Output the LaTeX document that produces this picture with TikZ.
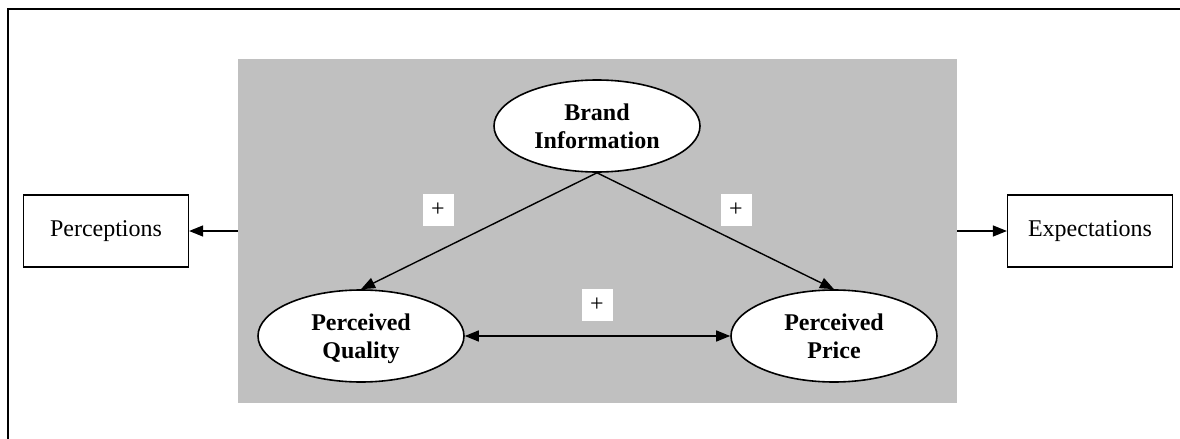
\documentclass[tikz,border=0pt]{standalone}
\usepackage{fontspec}
\setmainfont{Liberation Serif}
\usetikzlibrary{shapes.geometric, arrows.meta}
\definecolor{panelgray}{HTML}{C0C0C0}

\tikzset{
  construct/.style={ellipse, draw, line width=0.8pt, fill=white,
    minimum width=103pt, minimum height=46pt, inner sep=0pt,
    align=center, text depth=0pt, font=\fontsize{12}{14}\selectfont\bfseries},
  outcome/.style={rectangle, draw, line width=0.6pt, fill=white,
    minimum width=82.5pt, minimum height=36pt},
  sign/.style={fill=white, minimum width=15.5pt, minimum height=16pt, inner sep=0pt},
  link/.style={line width=0.7pt, -{Triangle[length=7pt,width=5.5pt]}}
}

\begin{document}
\begin{tikzpicture}[x=0.5pt, y=-0.5pt, font=\fontsize{12}{14}\selectfont]

\useasboundingbox (0,0) rectangle (1180,439);
\draw[line width=0.9pt] (8,450) -- (8,9) -- (1190,9);

\node (panel) [fill=panelgray, minimum width=359.5pt, minimum height=172pt, inner sep=0pt] at (597.5,231) {};

\node (brand) [construct] at (597,126) {Brand\\Information};
\node (quality) [construct] at (361,336) {Perceived\\Quality};
\node (price) [construct] at (834,336) {Perceived\\Price};

\node (percep) [outcome] at (106,231) {Perceptions};
\node (expect) [outcome] at (1090,231) {Expectations};

\node (signq) [sign] at (438,210) {+};
\node (signp) [sign] at (736,210) {+};
\node (signqp) [sign] at (597,305) {+};

\foreach \j in {quality, price}
\draw[link] (brand.south) -- (\j.north);
\draw[link, {Triangle[length=7pt,width=5.5pt]}-{Triangle[length=7pt,width=5.5pt]}] (quality) -- (price);
\draw[link] (panel.west) -- (percep.east);
\draw[link] (panel.east) -- (expect.west);

\end{tikzpicture}
\end{document}
